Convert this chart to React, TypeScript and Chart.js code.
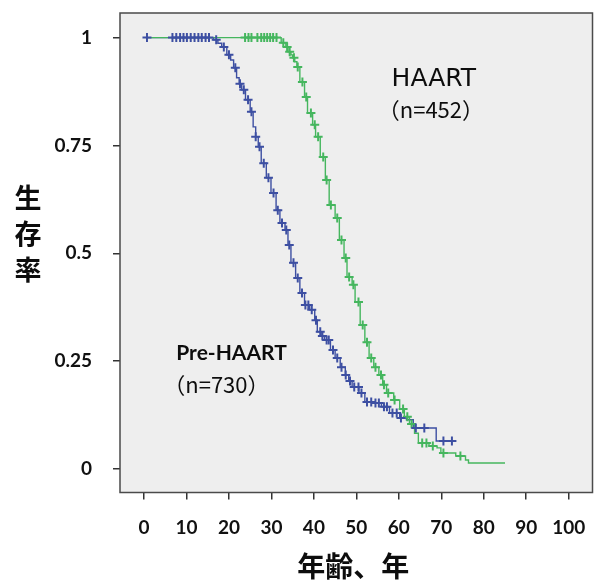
import { useEffect, useRef } from "react";
import { Chart, registerables } from "chart.js";

Chart.register(...registerables);

// Axis ticks
const xTicks = [0, 10, 20, 30, 40, 50, 60, 70, 80, 90, 100];
const yTicks = [0, 0.25, 0.5, 0.75, 1];
const yTickLabels = ["0", "0.25", "0.5", "0.75", "1"];

// Pre-HAART group: Kaplan-Meier steps (age, survival after the step)
const preHaartTimes = [
  0.6, 16.4, 17.4, 18.3, 19.5, 20.4, 21.1, 21.8, 22.4, 23.0, 23.9, 25.0, 25.7, 26.3, 26.9, 27.6,
  28.8, 29.9, 31.1, 32.0, 33.2, 33.9, 34.6, 35.7, 36.7, 37.8, 39.0, 40.2, 40.8, 41.7, 42.5, 43.9,
  45.0, 46.2, 47.4, 48.2, 49.0, 50.6, 52.0, 54.1, 55.9, 57.8, 60.2, 61.8, 63.4, 68.8, 73.4,
];
const preHaartSurvival = [
  1, 0.995, 0.987, 0.978, 0.96, 0.948, 0.93, 0.907, 0.893, 0.879, 0.856, 0.828, 0.793, 0.77, 0.747, 0.709,
  0.675, 0.64, 0.6, 0.57, 0.554, 0.519, 0.478, 0.443, 0.408, 0.38, 0.369, 0.345, 0.318, 0.308, 0.299, 0.276,
  0.257, 0.236, 0.218, 0.204, 0.19, 0.176, 0.155, 0.153, 0.144, 0.13, 0.118, 0.114, 0.095, 0.065, 0.065,
];
const preHaartCensored = [
  0.7, 6.7, 7.6, 8.5, 9.3, 10.1, 11.0, 11.9, 12.8, 13.6, 14.5, 15.3, 17.0, 18.8, 20.0, 21.5, 22.6,
  23.5, 24.5, 25.3, 26.3, 27.2, 28.2, 29.3, 30.5, 31.5, 32.5, 33.5, 34.2, 35.2, 36.2, 37.2, 38.0,
  38.7, 39.5, 40.5, 41.5, 42.0, 43.0, 43.5, 44.5, 45.5, 46.5, 47.5, 48.5, 49.5, 50.5, 51.2, 52.5,
  53.5, 54.5, 55.3, 56.5, 57.2, 58.5, 59.5, 60.5, 64.0, 66.0, 70.5, 72.5,
];

// HAART group
const haartTimes = [
  0.6, 32.3, 33.4, 33.9, 34.6, 35.0, 35.5, 36.0, 36.7, 37.8, 38.5, 39.7, 40.4, 41.5, 42.7, 43.6,
  45.0, 46.0, 47.1, 47.8, 49.0, 49.7, 50.9, 52.0, 53.0, 54.1, 55.3, 56.2, 57.1, 58.8, 60.2, 61.3,
  62.5, 63.7, 64.6, 67.1, 69.0, 69.9, 73.4, 75.7, 76.4, 85.0,
];
const haartSurvival = [
  1, 0.988, 0.978, 0.967, 0.96, 0.953, 0.944, 0.932, 0.897, 0.862, 0.825, 0.798, 0.77, 0.723, 0.67, 0.612,
  0.582, 0.531, 0.489, 0.445, 0.427, 0.387, 0.334, 0.294, 0.257, 0.236, 0.218, 0.195, 0.176, 0.16, 0.139, 0.121,
  0.104, 0.083, 0.06, 0.053, 0.049, 0.037, 0.03, 0.021, 0.014, 0.014,
];
const haartCensored = [
  23.8, 24.6, 25.3, 26.7, 27.6, 28.3, 29.0, 29.7, 30.4, 31.2, 32.8, 33.7, 34.3, 35.3, 36.2, 37.3,
  38.2, 39.3, 40.2, 41.0, 42.2, 43.0, 44.0, 45.5, 46.5, 47.5, 48.3, 49.3, 50.5, 51.5, 52.5, 53.5,
  54.5, 55.8, 56.5, 57.5, 59.0, 61.0, 62.0, 63.0, 65.5, 66.5, 68.0, 70.5, 74.5,
];

const BLUE = "#3d4fa2";
const GREEN = "#45b65e";

const stepPoints = (t: number[], s: number[]) => t.map((x, i) => ({ x, y: s[i] }));

const survivalAt = (t: number[], s: number[], at: number) => {
  let v = s[0];
  for (let i = 0; i < t.length; i++) {
    if (t[i] <= at) v = s[i];
  }
  return v;
};

const censorPoints = (t: number[], s: number[], c: number[]) =>
  c.map((x) => ({ x, y: survivalAt(t, s, x) }));

const framePlugin = {
  id: "kmFrame",
  beforeDraw(chart: any) {
    const { ctx, chartArea: a } = chart;
    ctx.save();
    ctx.fillStyle = "#eeeeee";
    ctx.fillRect(a.left, a.top, a.right - a.left, a.bottom - a.top);
    ctx.restore();
  },
  afterDraw(chart: any) {
    const { ctx, chartArea: a, scales } = chart;
    const sx = scales.x;
    const sy = scales.y;
    ctx.save();
    ctx.strokeStyle = "#4a4a4a";
    ctx.lineWidth = 1.5;
    ctx.strokeRect(a.left, a.top, a.right - a.left, a.bottom - a.top);

    ctx.fillStyle = "#0d0d0d";
    ctx.textBaseline = "middle";

    // group labels
    ctx.textAlign = "left";
    ctx.font = '25px "DejaVu Sans"';
    ctx.fillText("HAART", sx.getPixelForValue(58.3), sy.getPixelForValue(0.904));
    ctx.font = '22px "Noto Sans CJK JP"';
    ctx.fillText("（n=452）", sx.getPixelForValue(58.1) - 13, sy.getPixelForValue(0.832));

    ctx.font = "bold 21px Lato";
    ctx.fillText("Pre-HAART", sx.getPixelForValue(7.6), sy.getPixelForValue(0.269));
    ctx.font = '22px "Noto Sans CJK JP"';
    ctx.fillText("（n=730）", sx.getPixelForValue(7.6) - 13, sy.getPixelForValue(0.195));

    // axis titles
    ctx.textAlign = "center";
    ctx.font = 'bold 27px "Noto Sans CJK JP"';
    Array.from("生存率").forEach((ch, i) => {
      ctx.fillText(ch, 28, 198 + i * 36);
    });
    ctx.font = 'bold 28px "Noto Sans CJK JP"';
    ctx.fillText("年齢、年", (a.left + a.right) / 2 - 3, 566);
    ctx.restore();
  },
};

export default function App() {
  const ref = useRef<HTMLCanvasElement | null>(null);

  useEffect(() => {
    if (!ref.current) return;
    const tickFont = { family: "Lato", weight: "bold" as const, size: 19 };
    const chart = new Chart(ref.current, {
      type: "line",
      data: {
        datasets: [
          {
            label: "Pre-HAART censored",
            data: censorPoints(preHaartTimes, preHaartSurvival, preHaartCensored),
            showLine: false,
            pointStyle: "cross",
            pointRadius: 4.5,
            pointBorderWidth: 2,
            borderColor: BLUE,
            backgroundColor: BLUE,
            order: 1,
          },
          {
            label: "HAART censored",
            data: censorPoints(haartTimes, haartSurvival, haartCensored),
            showLine: false,
            pointStyle: "cross",
            pointRadius: 4.5,
            pointBorderWidth: 2,
            borderColor: GREEN,
            backgroundColor: GREEN,
            order: 2,
          },
          {
            label: "HAART",
            data: stepPoints(haartTimes, haartSurvival),
            stepped: "before",
            borderColor: GREEN,
            borderWidth: 1.4,
            pointRadius: 0,
            fill: false,
            order: 3,
          },
          {
            label: "Pre-HAART",
            data: stepPoints(preHaartTimes, preHaartSurvival),
            stepped: "before",
            borderColor: BLUE,
            borderWidth: 1.4,
            pointRadius: 0,
            fill: false,
            order: 4,
          },
        ],
      },
      options: {
        responsive: false,
        animation: false,
        devicePixelRatio: 1,
        layout: { padding: { top: 13, right: 1, left: 0, bottom: 0 } },
        plugins: { legend: { display: false }, tooltip: { enabled: false } },
        scales: {
          x: {
            type: "linear",
            min: -5.65,
            max: 105.6,
            afterBuildTicks: (s: any) => {
              s.ticks = xTicks.map((v) => ({ value: v }));
            },
            afterFit: (s: any) => {
              s.height = 88.5;
              s.paddingLeft = 0;
              s.paddingRight = 0;
            },
            grid: {
              drawOnChartArea: false,
              drawTicks: true,
              tickLength: 7,
              color: "#333",
              lineWidth: 1.5,
            },
            border: { display: false },
            ticks: {
              font: tickFont,
              color: "#111",
              padding: 17,
              maxRotation: 0,
              autoSkip: false,
            },
          },
          y: {
            type: "linear",
            min: -0.0545,
            max: 1.057,
            afterBuildTicks: (s: any) => {
              s.ticks = yTicks.map((v) => ({ value: v }));
            },
            afterFit: (s: any) => {
              s.width = 120;
              s.paddingTop = 0;
              s.paddingBottom = 0;
            },
            grid: {
              drawOnChartArea: false,
              drawTicks: true,
              tickLength: 7,
              color: "#333",
              lineWidth: 1.5,
            },
            border: { display: false },
            ticks: {
              font: tickFont,
              color: "#111",
              padding: 21,
              autoSkip: false,
              callback: (v: any) => {
                const i = yTicks.indexOf(Number(v));
                return i >= 0 ? yTickLabels[i] : "";
              },
            },
          },
        },
      },
      plugins: [framePlugin],
    });
    return () => chart.destroy();
  }, []);

  return (
    <div style={{ position: "absolute", left: 0, top: 0, width: 599, height: 581, background: "#fff" }}>
      <canvas ref={ref} width={599} height={581} style={{ display: "block" }} />
    </div>
  );
}
